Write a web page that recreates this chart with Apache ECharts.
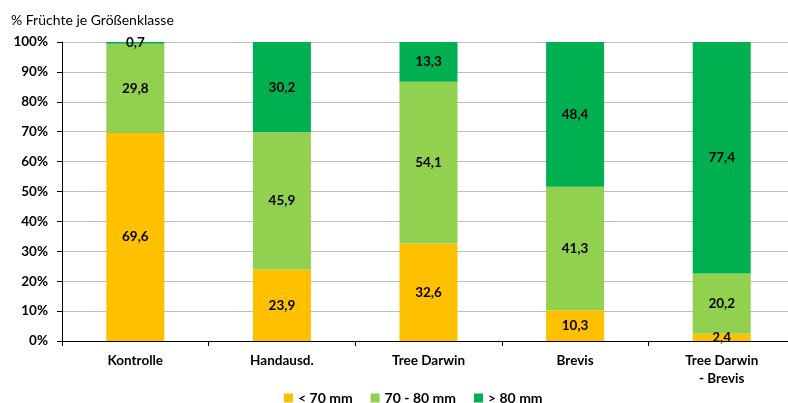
<!DOCTYPE html>
<html><head><meta charset="utf-8">
<script src="https://cdn.jsdelivr.net/npm/echarts@6/dist/echarts.min.js"></script>
<style>html,body{margin:0;padding:0;background:#fff;overflow:hidden}#c{width:796px;height:403px}</style>
</head><body><div id="c"></div>
<script>
const categories = ['Kontrolle', 'Handausd.', 'Tree Darwin', 'Brevis', 'Tree Darwin\n- Brevis'];
const seriesNames = ['< 70 mm', '70 - 80 mm', '> 80 mm'];
const small = [69.6, 23.9, 32.6, 10.3, 2.4];
const medium = [29.8, 45.9, 54.1, 41.3, 20.2];
const large = [0.7, 30.2, 13.3, 48.4, 77.4];
const yTicks = [0, 10, 20, 30, 40, 50, 60, 70, 80, 90, 100];
const colors = ['#FFC000', '#92D050', '#00B050'];
const font = 'Lato, "Open Sans", sans-serif';
const chart = echarts.init(document.getElementById('c'));
const mk = (name, data, color) => ({
  name, type: 'bar', stack: 't', data, barWidth: 58,
  itemStyle: {color},
  label: {show: true, position: 'inside', color: '#000', fontWeight: 'bold', fontSize: 13.5, fontFamily: font,
    formatter: p => String(p.value).replace('.', ',')}
});
chart.setOption({
  animation: false,
  title: {text: '% Früchte je Größenklasse', left: 6, top: 8, textStyle: {fontSize: 14, fontWeight: 'normal', color: '#000', fontFamily: font}},
  legend: {top: 386, left: 279, itemWidth: 9, itemHeight: 9, itemGap: 18, icon: 'rect',
    textStyle: {fontSize: 14, fontWeight: 'bold', color: '#000', fontFamily: font}, data: seriesNames},
  grid: {left: 62, right: 1, top: 42, bottom: 62, containLabel: false},
  xAxis: {type: 'category', data: categories,
    axisLine: {lineStyle: {color: '#000', width: 1}},
    axisTick: {show: true, alignWithLabel: false, length: 5, lineStyle: {color: '#000'}},
    axisLabel: {color: '#000', fontWeight: 'bold', fontSize: 13.5, fontFamily: font, margin: 11, lineHeight: 18}},
  yAxis: {type: 'value', min: 0, max: 100, interval: 10,
    axisLine: {show: true, lineStyle: {color: '#000'}},
    axisTick: {show: true, length: 5, lineStyle: {color: '#000'}},
    splitLine: {lineStyle: {color: '#bfbfbf'}},
    axisLabel: {color: '#000', fontWeight: 'bold', fontSize: 13.5, fontFamily: font, margin: 14,
      formatter: v => yTicks.includes(v) ? v + '%' : ''}},
  series: [mk(seriesNames[0], small, colors[0]), mk(seriesNames[1], medium, colors[1]), mk(seriesNames[2], large, colors[2])]
});
</script></body></html>
